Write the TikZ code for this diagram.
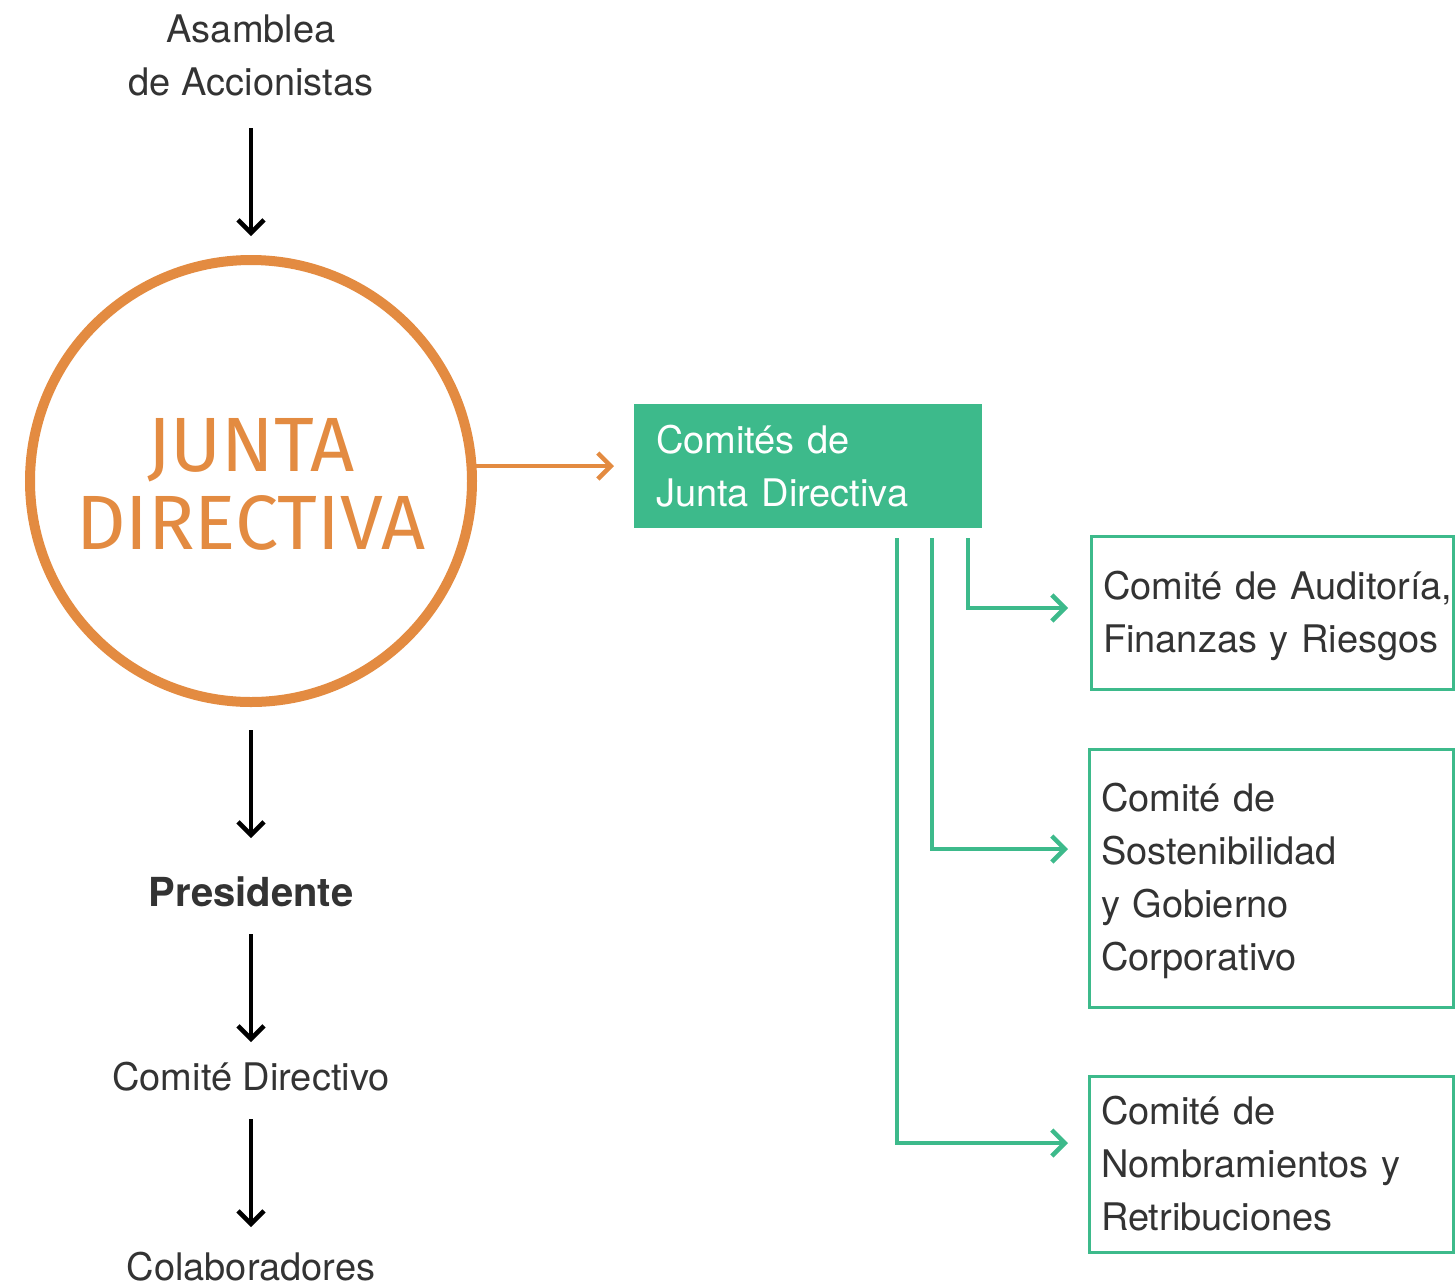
\documentclass[tikz,border=0pt]{standalone}
\usepackage{fontspec}
\setmainfont{TeX Gyre Heros}
\newfontfamily\jdfont{Fira Sans}
\usetikzlibrary{arrows.meta,calc}
\definecolor{jorange}{HTML}{E38B41}
\definecolor{jgreen}{HTML}{3DBA8B}
\definecolor{jtext}{HTML}{333333}
\newcommand\mystrut{\rule[-8pt]{0pt}{43pt}}
\newcommand\boxline[1]{\mbox{\mystrut #1}}
\begin{document}
\begin{tikzpicture}[x=1pt,y=-1pt,
  every node/.style={inner sep=0pt, outer sep=0pt},
  txt/.style={font=\fontsize{38}{53}\selectfont, text=jtext, align=center},
  darrow/.style={draw=black, line width=4.5pt, -{Straight Barb[length=13pt,width=26pt]}},
  oarrow/.style={draw=jorange, line width=4.5pt, -{Straight Barb[length=13pt,width=26pt]}},
  garrow/.style={draw=jgreen, line width=4.5pt, -{Straight Barb[length=13pt,width=26pt]}},
  filledbox/.style={rectangle, fill=jgreen, text=white, font=\fontsize{38}{53}\selectfont,
    inner xsep=22pt, align=left},
  linebox/.style={rectangle, draw=jgreen, line width=3pt, text=jtext, font=\fontsize{38}{53}\selectfont,
    inner xsep=12pt, align=left},
]
\useasboundingbox (0,0) rectangle (1455,1286);

\node[circle, draw=jorange, line width=10pt, minimum size=442pt,
  font=\jdfont\fontsize{77}{78}\selectfont, text=jorange, align=center] (jd) at (251,481)
  {\rule{0pt}{60pt}JUNTA\\DIRECTIVA};

\node[txt] (asam) at (251,55) {\mystrut Asamblea\\\mystrut de Accionistas};
\node[txt, font=\bfseries\fontsize{40}{53}\selectfont] (pres) at (251,892.5) {\mystrut Presidente};
\node[txt] (cdir) at (251,1076.5) {\mystrut Comité Directivo};
\node[txt] (colab) at (251,1266.5) {\mystrut Colaboradores};

\node[filledbox, minimum width=348pt, minimum height=124pt, text width=304pt] (cjd) at (808,466)
  {\boxline{Comités de}\\\boxline{Junta Directiva}};

\node[linebox, minimum width=362pt, minimum height=153pt, text width=338pt] (box1) at (1272,612.5)
  {\boxline{Comité de Auditoría,}\\\boxline{Finanzas y Riesgos}};
\node[linebox, minimum width=364pt, minimum height=258pt, text width=340pt] (box2) at (1271,878)
  {\boxline{Comité de}\\\boxline{Sostenibilidad}\\\boxline{y Gobierno}\\\boxline{Corporativo}};
\node[linebox, minimum width=364pt, minimum height=176pt, text width=340pt] (box3) at (1271,1164)
  {\boxline{Comité de}\\\boxline{Nombramientos y}\\\boxline{Retribuciones}};

\draw[darrow, shorten <=25pt, shorten >=24pt] (asam) -- (jd);
\draw[darrow, shorten <=28pt, shorten >=33pt] (jd) -- (pres);
\draw[darrow, shorten <=20pt, shorten >=13pt] (pres) -- (cdir);
\draw[darrow, shorten <=21pt, shorten >=18pt] (cdir) -- (colab);

\draw[oarrow, shorten >=20pt] (cjd.west -| jd.east) -- (cjd.west);

\draw[garrow] ($(cjd.south east)+(-14,10)$) |- ($(box1.north west)+(-23,72)$);
\draw[garrow] ($(cjd.south east)+(-50,10)$) |- ($(box2.north west)+(-21,100)$);
\draw[garrow] ($(cjd.south east)+(-85,10)$) |- ($(box3.north west)+(-21,67)$);
\end{tikzpicture}
\end{document}
